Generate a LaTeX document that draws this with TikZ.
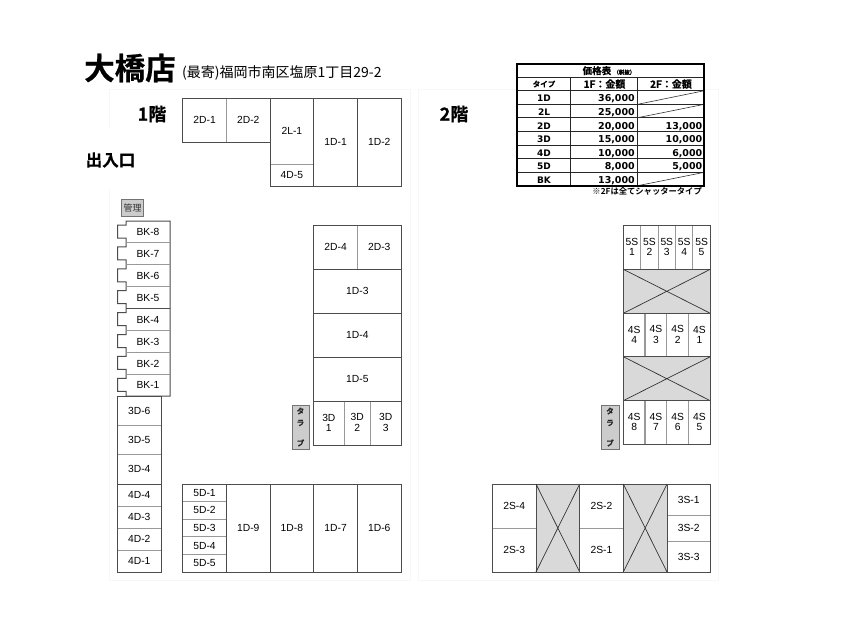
\documentclass[tikz,border=0pt]{standalone}
\usepackage{fontspec}
\setmainfont{Noto Sans CJK JP}
\newfontfamily\boldjp{Noto Sans CJK JP Bold}
\newfontfamily\heavyjp[FakeBold=0.6]{Noto Sans CJK JP Bold}
\newfontfamily\labelfont{Liberation Sans}
\newfontfamily\widebold{DejaVu Sans Bold}
\newcommand{\fs}[1]{\fontsize{#1}{#1}\selectfont}
\newcommand{\twoline}[2]{\shortstack{#1\\#2\rule[-1pt]{0pt}{1pt}}}
\tikzset{
  lbl/.style={inner sep=0pt,align=center,font=\labelfont\fs{10.3}},
  heavy/.style={draw=black!70,line width=1pt},
  thin line/.style={draw=black!40,line width=0.9pt},
  void/.style={draw=black!70,line width=1pt,fill=black!15},
  tag/.style={draw=black!55,line width=0.7pt,fill=black!20},
  faint/.style={draw=black!3,line width=0.8pt},
  tbl/.style={inner sep=0pt,font=\heavyjp\fs{10}},
  num/.style={inner sep=0pt,anchor=base east,font=\widebold\fs{9.5}},
  rowhead/.style={inner sep=0pt,anchor=base,font=\widebold\fs{9}},
  kana/.style={inner sep=0pt,font=\heavyjp\fs{7.5},text=black!85},
}
\newcommand{\cellbox}[6]{% name x1 y1 x2 y2 text
  \draw[heavy,fill=white] (#2,#3) rectangle (#4,#5);
  \node[lbl] (#1) at ({(#2+#4)/2},{(#3+#5)/2}) {#6};}
\newcommand{\crossbox}[4]{%
  \draw[void] (#1,#2) rectangle (#3,#4);
  \draw[draw=black!80,line width=0.7pt] (#1,#2) -- (#3,#4) (#1,#4) -- (#3,#2);}
\begin{document}
\begin{tikzpicture}[x=1pt,y=-1pt]
\useasboundingbox (0,0) rectangle (850,640);
\fill[white] (0,0) rectangle (850,640);
% faint page frames
\draw[faint] (109,129) -- (109,89) -- (410,89) (109,190) -- (109,580) -- (410,580) -- (410,89);
\draw[faint] (418,89) -- (518,89) (705,89) -- (718,89) -- (718,580) -- (418,580) -- (418,89);
% titles
\node[inner sep=0pt,anchor=west,font=\heavyjp\fs{30.5}] (title) at (84,68) {大橋店};
\node[inner sep=0pt,anchor=west,font=\fs{14}] (addr) at (182,73) {(最寄)福岡市南区塩原1丁目29-2};
\node[inner sep=0pt,font=\heavyjp\fs{18}] (f1) at (152,114) {1階};
\node[inner sep=0pt,font=\heavyjp\fs{18}] (f2) at (454,114) {2階};
\node[inner sep=0pt,font=\heavyjp\fs{16.5}] (ent) at (110.5,160) {出入口};
% 1F top row
\cellbox{a21}{182.7}{98}{226.5}{142}{2D-1}
\cellbox{a22}{226.5}{98}{270}{142}{2D-2}
\cellbox{a2l}{270}{98}{313.7}{164}{2L-1}
\cellbox{a45}{270}{164}{313.7}{186}{4D-5}
\cellbox{a11}{313.7}{98}{357.5}{186}{1D-1}
\cellbox{a12}{357.5}{98}{401}{186}{1D-2}
\draw[thin line] (226.5,98.5) -- (226.5,141.5) (270.5,164) -- (313.2,164);
% kanri
\node[tag,minimum width=21.5pt,minimum height=17.5pt,inner sep=0pt,font=\fs{9},text=black!80] (kanri) at (132.5,208) {管理};
% BK strip
\draw[heavy,fill=white] (170,221) -- (126,221)
 \foreach \y in {221,242.9,264.8,286.7,308.6,330.5,352.4,374.3} {
   -- (126,\y+4) -- (117.5,\y+4) -- (117.5,\y+17) -- (126,\y+17) -- (126,\y+21.9)
 } -- (170,396) -- cycle;
\foreach \y/\n in {221/8,242.9/7,264.8/6,286.7/5,308.6/4,330.5/3,352.4/2,374.3/1}{
  \node[lbl] (bk\n) at (148,\y+11) {BK-\n};
}
\foreach \y in {242.9,264.8,286.7,330.5,352.4,374.3}{\draw[thin line] (126,\y) -- (169.5,\y);}
\draw[heavy] (126,308.6) -- (170,308.6);
% left column
\cellbox{b36}{117.5}{396}{161}{425.3}{3D-6}
\cellbox{b35}{117.5}{425.3}{161}{454.6}{3D-5}
\cellbox{b34}{117.5}{454.6}{161}{484}{3D-4}
\cellbox{b44}{117.5}{484}{161}{506}{4D-4}
\cellbox{b43}{117.5}{506}{161}{528}{4D-3}
\cellbox{b42}{117.5}{528}{161}{550}{4D-2}
\cellbox{b41}{117.5}{550}{161}{572}{4D-1}
\draw[thin line] (118,425.3) -- (160.5,425.3) (118,454.6) -- (160.5,454.6) (118,506) -- (160.5,506) (118,528) -- (160.5,528) (118,550) -- (160.5,550);
% bottom row 1F
\cellbox{c51}{182.5}{484}{226.5}{501.6}{5D-1}
\cellbox{c52}{182.5}{501.6}{226.5}{519.2}{5D-2}
\cellbox{c53}{182.5}{519.2}{226.5}{536.8}{5D-3}
\cellbox{c54}{182.5}{536.8}{226.5}{554.4}{5D-4}
\cellbox{c55}{182.5}{554.4}{226.5}{572}{5D-5}
\draw[thin line] (183,501.6) -- (226,501.6) (183,519.2) -- (226,519.2) (183,536.8) -- (226,536.8) (183,554.4) -- (226,554.4);
\cellbox{c19}{226.5}{484}{270}{572}{1D-9}
\cellbox{c18}{270}{484}{313.7}{572}{1D-8}
\cellbox{c17}{313.7}{484}{357.5}{572}{1D-7}
\cellbox{c16}{357.5}{484}{401}{572}{1D-6}
% right block 1F
\cellbox{d24}{313.7}{225}{357.5}{269}{2D-4}
\cellbox{d23}{357.5}{225}{401}{269}{2D-3}
\cellbox{d13}{313.7}{269}{401}{313}{1D-3}
\cellbox{d14}{313.7}{313}{401}{357}{1D-4}
\cellbox{d15}{313.7}{357}{401}{401}{1D-5}
\cellbox{d31}{313.7}{401}{344}{445}{\twoline{3D}{1}}
\cellbox{d32}{344}{401}{370.5}{445}{\twoline{3D}{2}}
\cellbox{d33}{370.5}{401}{401}{445}{\twoline{3D}{3}}
\draw[thin line] (357.5,225.5) -- (357.5,268.5) (344,401.5) -- (344,444.5) (370.5,401.5) -- (370.5,444.5);
% club tags
\node[tag,minimum width=17.5pt,minimum height=44pt,inner sep=0pt,anchor=north west] (tag1) at (291.7,405) {};
\node[kana] (t1a) at (300.5,411) {タ};
\node[kana] (t1b) at (300.5,423) {ラ};
\node[kana] (t1c) at (300.5,443) {ブ};
\node[tag,minimum width=17.5pt,minimum height=44pt,inner sep=0pt,anchor=north west] (tag2) at (601.3,405) {};
\node[kana] (t2a) at (610,411) {タ};
\node[kana] (t2b) at (610,423) {ラ};
\node[kana] (t2c) at (610,443) {ブ};
% 2F right block
\foreach \n/\xa/\xb in {1/623.3/640.7,2/640.7/658.1,3/658.1/675.5,4/675.5/692.9,5/692.9/710.3}{
  \cellbox{s5\n}{\xa}{225.3}{\xb}{269.3}{\twoline{5S}{\n}}
}
\crossbox{623.3}{269.3}{710.3}{313.3}
\foreach \n/\xa/\xb in {4/623.3/645,3/645/666.8,2/666.8/688.5,1/688.5/710.3}{
  \cellbox{s4\n}{\xa}{313.3}{\xb}{356.7}{\twoline{4S}{\n}}
}
\crossbox{623.3}{356.7}{710.3}{400.7}
\foreach \n/\xa/\xb in {8/623.3/645,7/645/666.8,6/666.8/688.5,5/688.5/710.3}{
  \cellbox{s4\n}{\xa}{400.7}{\xb}{444.3}{\twoline{4S}{\n}}
}
\draw[thin line,line width=1.1pt] (640.7,226) -- (640.7,269) (658.1,226) -- (658.1,269) (675.5,226) -- (675.5,269) (692.9,226) -- (692.9,269)
 (645,314) -- (645,356) (666.8,314) -- (666.8,356) (688.5,314) -- (688.5,356)
 (645,401) -- (645,444) (666.8,401) -- (666.8,444) (688.5,401) -- (688.5,444);
% 2F bottom row
\cellbox{e24}{492.3}{484}{536}{528.3}{2S-4}
\cellbox{e23}{492.3}{528.3}{536}{572}{2S-3}
\crossbox{536}{484}{579.7}{572}
\cellbox{e22}{579.7}{484}{623.3}{528.3}{2S-2}
\cellbox{e21}{579.7}{528.3}{623.3}{572}{2S-1}
\crossbox{623.3}{484}{667}{572}
\cellbox{e31}{667}{484}{710.3}{515}{3S-1}
\cellbox{e32}{667}{515}{710.3}{541.3}{3S-2}
\cellbox{e33}{667}{541.3}{710.3}{572}{3S-3}
\draw[thin line] (667.5,515) -- (710,515) (667.5,541.3) -- (710,541.3) (492.8,528.3) -- (535.5,528.3) (580,528.3) -- (623,528.3);
% price table
\fill[white] (517.3,64) rectangle (704.3,185.7);
\foreach \y in {77.3,90.7,104.3,117.7,131.7,145,158.7,172.3}{\draw[black!85,line width=1pt] (517.3,\y) -- (704.3,\y);}
\draw[black!85,line width=1pt] (570.7,77.3) -- (570.7,185.7) (637.7,77.3) -- (637.7,185.7);
\draw[black!80,line width=0.6pt] (637.7,104.3) -- (704.3,90.7) (637.7,117.7) -- (704.3,104.3) (637.7,185.7) -- (704.3,172.3);
\draw[black,line width=1.7pt] (517.3,64) rectangle (704.3,185.7);
\node[inner sep=0pt,font=\heavyjp\fs{9.5}] (th) at (609,70.7) {価格表 {\fs{5.5}（税抜）}};
\node[inner sep=0pt,font=\heavyjp\fs{7.5}] (h1) at (544,84) {タイプ};
\node[tbl] (h2) at (604.5,84) {1F：金額};
\node[tbl] (h3) at (671,84) {2F：金額};
\node[rowhead] (r1) at (544,101.8) {1D};
\node[rowhead] (r2) at (544,115.3) {2L};
\node[rowhead] (r3) at (544,129) {2D};
\node[rowhead] (r4) at (544,142.6) {3D};
\node[rowhead] (r5) at (544,156.1) {4D};
\node[rowhead] (r6) at (544,169.8) {5D};
\node[rowhead] (r7) at (544,183.3) {BK};
\node[num] (p1) at (635,101.8) {36,000};
\node[num] (p2) at (635,115.3) {25,000};
\node[num] (p3) at (635,129) {20,000};
\node[num] (p4) at (635,142.6) {15,000};
\node[num] (p5) at (635,156.1) {10,000};
\node[num] (p6) at (635,169.8) {8,000};
\node[num] (p7) at (635,183.3) {13,000};
\node[num] (q3) at (702.5,129) {13,000};
\node[num] (q4) at (702.5,142.6) {10,000};
\node[num] (q5) at (702.5,156.1) {6,000};
\node[num] (q6) at (702.5,169.8) {5,000};
\node[inner sep=0pt,anchor=east,font=\boldjp\fs{8.3}] (note) at (702,191.5) {※2Fは全てシャッタータイプ};
\end{tikzpicture}
\end{document}
